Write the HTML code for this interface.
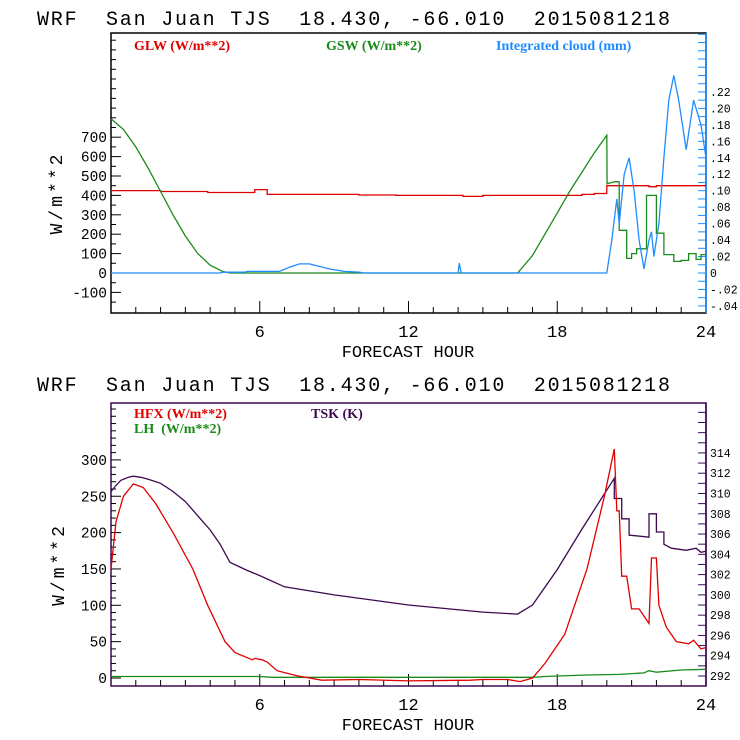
<!DOCTYPE html>
<html><head><meta charset="utf-8">
<style>
html,body{margin:0;padding:0;background:#fff;}
svg{display:block;}
text{font-family:"Liberation Mono",monospace;white-space:pre;}
.lg{font-family:"Liberation Serif",serif;font-weight:bold;font-size:14px;}
</style></head>
<body>
<svg id="chart" width="740" height="740" viewBox="0 0 740 740" xmlns="http://www.w3.org/2000/svg" xml:space="preserve">
<text x="37" y="25" font-size="20" textLength="633" lengthAdjust="spacing" xml:space="preserve">WRF  San Juan TJS  18.430, -66.010  2015081218</text>
<text x="37" y="391" font-size="20" textLength="633" lengthAdjust="spacing" xml:space="preserve">WRF  San Juan TJS  18.430, -66.010  2015081218</text>
<g id="g"></g>
</svg>
<script>
// ---- Top panel data ----
const glwHours = [0,2,2,3.9,3.9,5.8,5.8,6.3,6.3,10,10,11.5,11.5,14.2,14.2,15,15,19,19,19.5,19.5,20,20,21.7,21.7,22,22,24];
const glwValues = [425,425,420,420,415,415,430,430,405,405,402,402,400,400,395,395,400,400,405,405,410,410,450,450,445,445,450,450];
const gswHours = [0,0.5,1,1.5,2,2.5,3,3.5,4,4.5,4.8,16.4,17,17.5,18,18.5,19,19.5,20,20.01,20.3,20.3,20.5,20.5,20.8,20.8,21,21,21.2,21.2,21.6,21.6,22,22,22.3,22.3,22.7,22.7,23,23,23.3,23.3,23.6,23.6,23.8,23.8,24];
const gswValues = [795,740,650,540,420,300,190,100,40,8,0,0,90,200,310,420,520,620,710,460,470,470,470,220,220,75,75,100,100,125,125,400,400,205,205,95,95,60,60,65,65,100,100,70,70,95,95];
const cloudHours = [0,4.4,4.5,5.4,5.5,6.8,7.2,7.6,8,8.4,8.8,9.4,10,10.2,14,14.05,14.1,14.15,14.2,20,20.2,20.4,20.5,20.7,20.9,21.1,21.3,21.5,21.7,21.8,21.9,22.1,22.3,22.5,22.7,22.9,23.2,23.5,23.8,24];
const cloudValues = [0,0,0.001,0.001,0.002,0.002,0.007,0.011,0.011,0.008,0.005,0.002,0.001,0,0,0.012,0.003,0,0,0,0.04,0.09,0.06,0.12,0.14,0.1,0.04,0.005,0.04,0.05,0.02,0.06,0.14,0.21,0.24,0.21,0.15,0.21,0.18,0.14];
const topLeftTicks = [-100,0,100,200,300,400,500,600,700];
const topRightTicks = [-0.04,-0.02,0,0.02,0.04,0.06,0.08,0.10,0.12,0.14,0.16,0.18,0.20,0.22];
const topRightLabels = ["-.04","-.02","0",".02",".04",".06",".08",".10",".12",".14",".16",".18",".20",".22"];
// ---- Bottom panel data ----
const hfxHours = [0,0.2,0.5,0.9,1.3,1.8,2.5,3.3,3.9,4.6,5,5.7,5.8,6.1,6.3,6.7,7.5,8.5,10,12,14.5,15,16,16.5,17,17.5,18.3,19.2,19.9,20.3,20.4,20.5,20.6,20.8,21,21.3,21.7,21.8,22,22.1,22.4,22.8,23.3,23.5,23.8,24];
const hfxValues = [150,215,250,267,262,240,200,150,100,50,35,25,27,25,22,10,3,-3,-2,-4,-3,-2,-2,-5,0,20,60,150,250,315,230,230,140,140,95,95,75,165,165,100,70,50,47,52,40,42];
const tskHours = [0,0.2,0.4,0.7,0.9,1.2,1.5,2,2.5,3,3.5,4,4.4,4.8,5.5,6,7,9,12,15,16.4,17,18,19,20.3,20.3,20.6,20.6,20.9,20.9,21.7,21.7,22,22,22.3,22.3,22.6,23.2,23.6,23.8,24];
const tskValues = [310.2,310.8,311.3,311.6,311.7,311.6,311.4,311,310.2,309.2,307.8,306.4,305,303.2,302.4,301.9,300.8,300,299,298.3,298.1,299,302.5,306.5,311.5,309.5,309.5,307.5,307.5,305.9,305.7,308,308,306.2,306.2,305,304.6,304.4,304.6,304.2,304.3];
const lhHours = [0,6,6.5,16,17,17.5,19,20.5,21.5,21.7,22,23,24];
const lhValues = [2,2,1,1,1,2,4,5,7,10,8,11,12];
const botLeftTicks = [0,50,100,150,200,250,300];
const botRightTicks = [292,294,296,298,300,302,304,306,308,310,312,314];
const xTicks = [6,12,18,24];

const NS="http://www.w3.org/2000/svg";
const g=document.getElementById('g');
function mk(tag,attrs,parent){const e=document.createElementNS(NS,tag);for(const k in attrs)e.setAttribute(k,attrs[k]);(parent||g).appendChild(e);return e;}
const X0=111,X1=706;
function xs(h){return X0+(X1-X0)*h/24;}

function panel(p){
  const box=mk('rect',{x:X0,y:p.top,width:X1-X0,height:p.bottom-p.top,fill:'none',stroke:p.boxColor,'stroke-width':1.5});
  
  
  const rAx=mk('line',{x1:X1,y1:p.top,x2:X1,y2:p.bottom,stroke:p.rightColor,'stroke-width':1.5});
  
  
  for(let h=1;h<24;h++){
    const big=h%6===0;
    const t=mk('line',{x1:xs(h),x2:xs(h),y1:p.bottom,y2:p.bottom-(big?12:6),stroke:'#000'});
    
    
  }
  xTicks.forEach(h=>{
    const t=mk('text',{x:xs(h),y:p.bottom+24,'font-size':17,'text-anchor':'middle'});
    t.textContent=h;
    
    
  });
  const xt=mk('text',{x:408,y:p.bottom+44,'font-size':17,'text-anchor':'middle'});
  xt.textContent='FORECAST HOUR';
  
  
  const yt=mk('text',{x:0,y:0,'font-size':18,'text-anchor':'middle','letter-spacing':3,transform:`translate(${p.ytX},${(p.top+p.bottom)/2+20}) rotate(-90)`});
  yt.textContent='W/m**2';
  
  
  for(let v=p.lMinor0;v<=p.lMax;v+=p.lMinor){
    const y=p.ly(v); if(y<p.top||y>p.bottom)continue;
    const big=p.lTicks.includes(v);
    const t=mk('line',{x1:X0,x2:X0+(big?10:5),y1:y,y2:y,stroke:'#000'});
    
    
  }
  p.lTicks.forEach(v=>{
    const t=mk('text',{x:X0-4,y:p.ly(v)+5,'font-size':14.5,'text-anchor':'end'});
    t.textContent=v;
    
    
  });
  for(let v=p.rMinor0;v<=p.rMax+1e-9;v+=p.rMinor){
    const y=p.ry(v); if(y<p.top||y>p.bottom)continue;
    const t=mk('line',{x1:X1,x2:X1-8,y1:y,y2:y,stroke:p.rightColor});
    
    
  }
  p.rTicks.forEach((v,i)=>{
    const t=mk('text',{x:X1+4,y:p.ry(v)+4,'font-size':11.5});
    t.textContent=p.rLabels?p.rLabels[i]:v;
    
    
  });
  p.series.forEach(s=>{
    const pts=s.h.map((h,i)=>xs(h).toFixed(1)+','+s.y(s.v[i]).toFixed(1)).join(' ');
    const l=mk('polyline',{points:pts,fill:'none',stroke:s.color,'stroke-width':1.3});
    
    
  });
  p.legend.forEach(L=>{
    const t=mk('text',{x:L.x,y:L.y,fill:L.color,class:'lg'});
    t.textContent=L.text;
    
    
  });
}
const tly=v=>273-v*0.194, try_=v=>273-v*823;
panel({name:'top',top:33,bottom:313,boxColor:'#000',rightColor:'#1e8cff',ytX:62,
  ly:tly,ry:try_,lTicks:topLeftTicks,lMinor:50,lMinor0:-150,lMax:1200,
  rTicks:topRightTicks,rLabels:topRightLabels,rMinor:0.01,rMinor0:-0.05,rMax:0.3,
  series:[
    {name:'glw-line',h:glwHours,v:glwValues,y:tly,color:'#e00000'},
    {name:'gsw-line',h:gswHours,v:gswValues,y:tly,color:'#1a8a1a'},
    {name:'cloud-line',h:cloudHours,v:cloudValues,y:try_,color:'#1e8cff'}],
  legend:[{x:134,y:50,color:'#e00000',text:'GLW (W/m**2)'},{x:326,y:50,color:'#1a8a1a',text:'GSW (W/m**2)'},{x:496,y:50,color:'#1e8cff',text:'Integrated cloud (mm)'}]});
const bly=v=>678-v*0.727, bry=v=>676-(v-292)*10.14;
panel({name:'bottom',top:403,bottom:686,boxColor:'#3c0a50',rightColor:'#3c0a50',ytX:64,
  ly:bly,ry:bry,lTicks:botLeftTicks,lMinor:10,lMinor0:0,lMax:400,
  rTicks:botRightTicks,rMinor:1,rMinor0:291,rMax:320,
  series:[
    {name:'lh-line',h:lhHours,v:lhValues,y:bly,color:'#1a8a1a'},
    {name:'tsk-line',h:tskHours,v:tskValues,y:bry,color:'#3c0a50'},
    {name:'hfx-line',h:hfxHours,v:hfxValues,y:bly,color:'#e00000'}],
  legend:[{x:134,y:418,color:'#e00000',text:'HFX (W/m**2)'},{x:134,y:433,color:'#1a8a1a',text:'LH  (W/m**2)'},{x:311,y:418,color:'#3c0a50',text:'TSK (K)'}]});
</script>
</body></html>
